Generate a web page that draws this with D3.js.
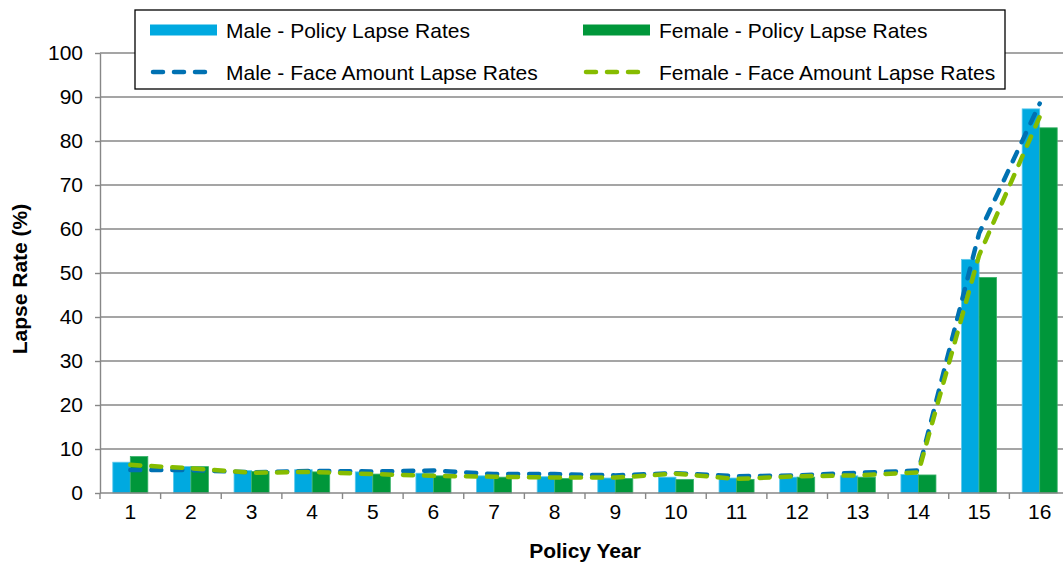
<!DOCTYPE html>
<html>
<head>
<meta charset="utf-8">
<script src="https://cdn.jsdelivr.net/npm/d3@7"></script>
<style>
  body { margin: 0; background: #fff; }
  text { font-family: "Liberation Sans", Arial, sans-serif; }
</style>
</head>
<body>
<svg id="chart" width="1063" height="567"></svg>
<script>
const categories = ["1","2","3","4","5","6","7","8","9","10","11","12","13","14","15","16"];
const malePolicy   = [7.0, 6.0, 5.1, 5.3, 4.8, 4.5, 3.9, 3.7, 3.4, 3.6, 3.4, 3.6, 3.9, 4.2, 53.1, 87.3];
const femalePolicy = [8.3, 6.0, 4.9, 4.8, 4.3, 3.9, 3.6, 3.3, 3.3, 3.1, 3.1, 3.6, 3.6, 4.1, 49.0, 83.0];
const maleFace     = [5.2, 5.2, 4.7, 5.0, 4.9, 5.1, 4.3, 4.3, 4.0, 4.5, 3.8, 4.0, 4.6, 5.1, 59.0, 88.5];
const femaleFace   = [6.4, 5.6, 4.6, 4.8, 4.3, 3.9, 3.7, 3.5, 3.5, 4.4, 3.2, 3.8, 4.0, 4.7, 54.0, 85.5];
const yTicks = [0, 10, 20, 30, 40, 50, 60, 70, 80, 90, 100];
const seriesNames = ["Male - Policy Lapse Rates", "Female - Policy Lapse Rates",
                     "Male - Face Amount Lapse Rates", "Female - Face Amount Lapse Rates"];

(function () {
const colors = { maleBar: "#00A9E0", femaleBar: "#00973A", maleLine: "#0071B2", femaleLine: "#86BC00" };
const gridColor = "#878787";
const fs = 21;
const svg = d3.select("#chart");

const pLeft = 100, pRight = 1070, pTop = 53, pBottom = 493;
const x = d3.scaleBand().domain(categories).range([pLeft, pRight]).padding(0);
const inner = d3.scaleBand().domain(["m", "f"]).range([0, x.bandwidth()]).paddingInner(0).paddingOuter(0.73);
const y = d3.scaleLinear().domain([0, 100]).range([pBottom, pTop]);

// gridlines
svg.append("g").selectAll("line").data(yTicks.filter(d => d > 0)).join("line")
  .attr("x1", pLeft).attr("x2", 1063)
  .attr("y1", d => y(d)).attr("y2", d => y(d))
  .attr("stroke", gridColor).attr("stroke-width", 1.4);

// bars
const barData = [];
categories.forEach((c, i) => {
  barData.push({ c, k: "m", v: malePolicy[i] });
  barData.push({ c, k: "f", v: femalePolicy[i] });
});
svg.append("g").selectAll("rect").data(barData).join("rect")
  .attr("x", d => x(d.c) + inner(d.k))
  .attr("width", inner.bandwidth())
  .attr("y", d => y(d.v))
  .attr("height", d => y(0) - y(d.v))
  .attr("fill", d => d.k === "m" ? colors.maleBar : colors.femaleBar)
  .attr("stroke", d => d.k === "m" ? "#5cc8ec" : "#3ab26a")
  .attr("stroke-width", 0.8);

// axes
const yAxis = d3.axisLeft(y).tickValues(yTicks).tickSize(5).tickSizeOuter(0).tickPadding(12);
const gy = svg.append("g").attr("transform", `translate(${pLeft},0)`).call(yAxis);
gy.select(".domain").attr("stroke", gridColor).attr("stroke-width", 1.4);
gy.selectAll(".tick line").attr("stroke", gridColor).attr("stroke-width", 1.4);
gy.selectAll(".tick text").attr("font-size", fs).attr("fill", "#000")
  .attr("font-family", "Liberation Sans, Arial, sans-serif");

svg.append("line").attr("x1", pLeft).attr("x2", 1063).attr("y1", pBottom).attr("y2", pBottom)
  .attr("stroke", gridColor).attr("stroke-width", 1.4);

const gx = svg.append("g");
gx.selectAll("line").data(categories.concat(["end"])).join("line")
  .attr("x1", (d, i) => pLeft + i * x.step()).attr("x2", (d, i) => pLeft + i * x.step())
  .attr("y1", pBottom).attr("y2", pBottom + 6)
  .attr("stroke", gridColor).attr("stroke-width", 1.4);
gx.selectAll("text").data(categories).join("text")
  .attr("x", d => x(d) + x.bandwidth() / 2).attr("y", 518.5)
  .attr("text-anchor", "middle").attr("font-size", fs).text(d => d);

// lines
const line = d3.line().x((d, i) => x(categories[i]) + x.bandwidth() / 2).y(d => y(d));
function dashed(data, color) {
  svg.append("path").datum(data).attr("d", line)
    .attr("fill", "none").attr("stroke", color).attr("stroke-width", 4.5)
    .attr("stroke-dasharray", "10,11").attr("stroke-linecap", "round");
}
dashed(maleFace, colors.maleLine);
dashed(femaleFace, colors.femaleLine);

// axis titles
svg.append("text").attr("x", 585).attr("y", 558).attr("text-anchor", "middle")
  .attr("font-size", fs).attr("font-weight", "bold").text("Policy Year");
svg.append("text").attr("transform", "translate(27,279) rotate(-90)").attr("text-anchor", "middle")
  .attr("font-size", fs).attr("font-weight", "bold").text("Lapse Rate (%)");

// legend
const lg = svg.append("g");
lg.append("rect").attr("x", 135).attr("y", 10).attr("width", 870).attr("height", 79)
  .attr("fill", "#fff").attr("stroke", "#000").attr("stroke-width", 1.3);
const legendItems = [
  { name: seriesNames[0], type: "bar", color: colors.maleBar, lx: 150, ly: 30 },
  { name: seriesNames[1], type: "bar", color: colors.femaleBar, lx: 583, ly: 30 },
  { name: seriesNames[2], type: "line", color: colors.maleLine, lx: 150, ly: 72 },
  { name: seriesNames[3], type: "line", color: colors.femaleLine, lx: 583, ly: 72 }
];
legendItems.forEach(it => {
  if (it.type === "bar") {
    lg.append("rect").attr("x", it.lx).attr("y", it.ly - 5.5).attr("width", 67).attr("height", 11).attr("fill", it.color);
  } else {
    lg.append("line").attr("x1", it.lx + 3).attr("x2", it.lx + 66).attr("y1", it.ly).attr("y2", it.ly)
      .attr("stroke", it.color).attr("stroke-width", 4.5)
      .attr("stroke-dasharray", "10,11").attr("stroke-linecap", "round");
  }
  lg.append("text").attr("x", it.lx + 76).attr("y", it.ly + 7.5).attr("font-size", fs).text(it.name);
});
})();
</script>
</body>
</html>
